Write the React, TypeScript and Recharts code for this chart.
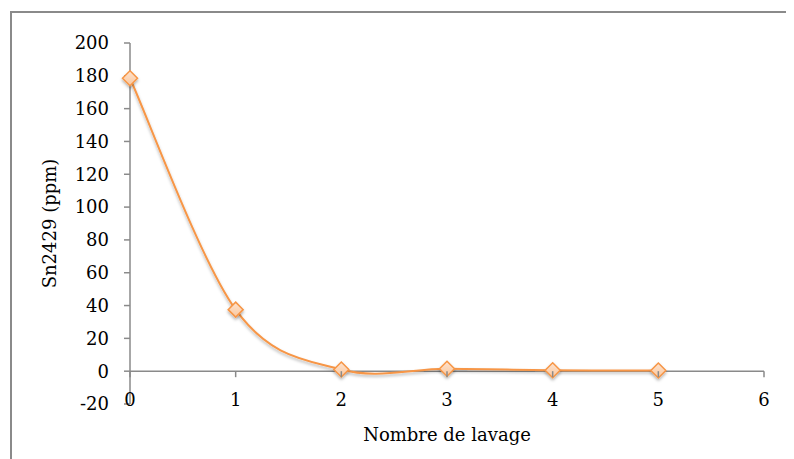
import React from "react";
import { LineChart, Line, XAxis, YAxis, ReferenceLine } from "recharts";

// Nombre de lavage vs Sn2429 (ppm)
const washes = [0, 1, 2, 3, 4, 5];
const snPpm = [178.5, 37.5, 1, 1.5, 0.6, 0.4];
const xTicks = [0, 1, 2, 3, 4, 5, 6];
const yTicks = [-20, 0, 20, 40, 60, 80, 100, 120, 140, 160, 180, 200];

const data = washes.map((x, i) => ({ x, sn: snPpm[i] }));

const W = 786;
const H = 451;
const M_TOP = 35;
const X_AXIS_H = 55;
const Y_MIN = -20;
const Y_MAX = 200;
const PLOT_H = H - M_TOP - X_AXIS_H;
const ZERO_Y = M_TOP + (PLOT_H * Y_MAX) / (Y_MAX - Y_MIN);

const AXIS = "#8a8a8a";
const ORANGE = "#f79646";
const FONT = "'DejaVu Serif', serif";

// Excel-style smoothed line (cubic bezier, control points at 1/6 of neighbour span)
function excelSmooth(context: any) {
  let pts: [number, number][] = [];
  return {
    areaStart() {},
    areaEnd() {},
    lineStart() {
      pts = [];
    },
    point(x: number, y: number) {
      pts.push([+x, +y]);
    },
    lineEnd() {
      if (!pts.length) return;
      context.moveTo(pts[0][0], pts[0][1]);
      for (let i = 0; i < pts.length - 1; i++) {
        const p0 = pts[Math.max(0, i - 1)];
        const p1 = pts[i];
        const p2 = pts[i + 1];
        const p3 = pts[Math.min(pts.length - 1, i + 2)];
        context.bezierCurveTo(
          p1[0] + (p2[0] - p0[0]) / 6,
          p1[1] + (p2[1] - p0[1]) / 6,
          p2[0] - (p3[0] - p1[0]) / 6,
          p2[1] - (p3[1] - p1[1]) / 6,
          p2[0],
          p2[1]
        );
      }
    },
  };
}

const XTick = ({ x, payload }: any) => (
  <g>
    <line x1={x} x2={x} y1={ZERO_Y} y2={ZERO_Y + 6} stroke={AXIS} strokeWidth={1.5} />
    <text x={x} y={ZERO_Y + 35} textAnchor="middle" fontSize={18} fontFamily={FONT} fill="#000">
      {payload.value}
    </text>
  </g>
);

const YTitle = ({ viewBox }: any) => {
  const cx = viewBox.x + 41;
  const cy = viewBox.y + viewBox.height / 2;
  return (
    <text
      x={cx}
      y={cy}
      transform={`rotate(-90, ${cx}, ${cy})`}
      textAnchor="middle"
      dominantBaseline="central"
      fontSize={18}
      fontFamily={FONT}
      fill="#000"
    >
      Sn2429 (ppm)
    </text>
  );
};

const Diamond = ({ cx, cy }: any) => {
  if (cx == null || cy == null) return null;
  const r = 7.5;
  const pts = `${cx},${cy - r} ${cx + r},${cy} ${cx},${cy + r} ${cx - r},${cy}`;
  return (
    <polygon
      points={pts}
      fill="url(#dotFill)"
      stroke={ORANGE}
      strokeWidth={1.5}
      filter="url(#shadow)"
    />
  );
};

export default function App() {
  return (
    <div style={{ position: "relative", width: W, height: H }}>
      <div
        style={{
          position: "absolute",
          left: 2,
          top: 3,
          right: -20,
          bottom: -20,
          borderTop: `2px solid ${AXIS}`,
          borderLeft: `2px solid ${AXIS}`,
        }}
      />
      <div style={{ position: "absolute", left: 0, top: 0 }}>
        <LineChart width={W} height={H} data={data} margin={{ top: M_TOP, right: 30, bottom: 0, left: 0 }}>
          <defs>
            <linearGradient id="dotFill" x1="0" y1="0" x2="0" y2="1">
              <stop offset="0%" stopColor="#fde3cf" />
              <stop offset="100%" stopColor="#fbc79d" />
            </linearGradient>
            <filter id="shadow" x="-50%" y="-50%" width="200%" height="200%">
              <feDropShadow dx="0" dy="2" stdDeviation="1.5" floodColor="#000" floodOpacity="0.3" />
            </filter>
          </defs>
          <XAxis
            type="number"
            dataKey="x"
            domain={[0, 6]}
            ticks={xTicks}
            axisLine={false}
            tickLine={false}
            height={X_AXIS_H}
            tick={<XTick />}
            interval={0}
            label={{
              value: "Nombre de lavage",
              position: "insideBottom",
              offset: 18,
              fontSize: 18,
              fontFamily: FONT,
              fill: "#000",
            }}
          />
          <YAxis
            type="number"
            domain={[Y_MIN, Y_MAX]}
            ticks={yTicks}
            width={122}
            interval={0}
            axisLine={{ stroke: AXIS, strokeWidth: 1.5 }}
            tickLine={{ stroke: AXIS, strokeWidth: 1.5 }}
            tickSize={6}
            tickMargin={15}
            tick={{ fontSize: 18, fontFamily: FONT, fill: "#000" }}
            label={<YTitle />}
          />
          <ReferenceLine y={0} stroke={AXIS} strokeWidth={1.5} />
          <Line
            dataKey="sn"
            type={excelSmooth as any}
            stroke={ORANGE}
            strokeWidth={2}
            dot={<Diamond />}
            activeDot={false}
            isAnimationActive={false}
            filter="url(#shadow)"
          />
        </LineChart>
      </div>
    </div>
  );
}
